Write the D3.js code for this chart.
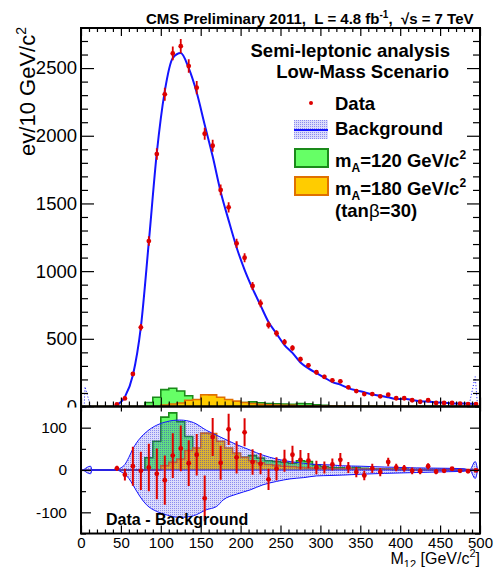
<!DOCTYPE html>
<html>
<head>
<meta charset="utf-8">
<script src="https://cdn.jsdelivr.net/npm/d3@7"></script>
<style>
body { margin: 0; background: #fff; }
svg { display: block; }
text { font-family: "Liberation Sans", Arial, sans-serif; white-space: pre; }
</style>
</head>
<body>
<div id="chart"></div>
<script>
// bin centres (GeV/c^2) of the data points
var mass = [45,55,65,75,85,95,105,115,125,135,145,155,165,175,185,195,205,215,225,235,
            245,255,265,275,285,295,305,315,325,335,345,355,365,375,385,395,405,415,425,435,
            445,455,465,475,485,495];
var dataVals = [16,60,240,585,1222,1865,2306,2608,2662,2515,2355,2015,1926,1600,1471,1205,1099,890,762,602,
                541,476,432,349,304,253,219,193,186,142,114,92,92,75,87,61,61,46,35,46,
                26,26,26,21,18,18];
var dataErr = [4,8,15,24,35,43,48,51,52,50,49,45,44,40,38,35,33,30,28,25,
               23,22,21,19,17,16,15,14,14,12,11,10,10,9,9,8,8,7,6,7,
               5,5,5,5,4,4];
var bkgVals = [12,71,231,587,1216,1874,2330,2574,2611,2499,2319,2082,1848,1587,1375,1175,1010,871,747,624,
               538,454,396,325,282,247,214,180,162,136,119,105,88,80,68,55,57,48,38,37,
               30,28,23,23,21,19];
// data - background
var resid = [4,-11,9,-2,6,-9,-24,34,51,16,36,-67,78,17,96,30,89,19,15,-22,
             3,22,36,24,22,6,6,13,24,6,-5,-13,4,-5,19,6,4,-2,-3,9,
             -4,-2,3,-2,-3,-1];
var residErr = [6,14,46,45,56,60,58,53,54,54,49,54,45,40,37,38,33,30,25,25,
                27,26,21,23,18,16,14,14,16,13,12,11,11,10,10,9,8,8,7,7,
                6,5,4,3,3,3];

// signal histograms, 10 GeV bins (lower edges)
var sigLow = [0,10,20,30,40,50,60,70,80,90,100,110,120,130,140,150,160,170,180,190,
              200,210,220,230,240,250,260,270,280,290,300,310,320,330,340,350,360,370,380,390,
              400,410,420,430,440,450,460,470,480,490];
var sig120 = [0,0,0,0,0,0,0,0,29,68,125,135,114,79,42,36,32,28,30,30,
              30,34,28,22,20,18,16,22,20,12,8,6,5,4,6,4,3,3,2,2,
              2,1,1,1,1,1,1,0,0,0];
var sig180 = [0,0,0,0,0,0,0,0,0,0,10,18,26,46,52,87,86,68,52,40,
              30,22,17,13,11,9,8,6,5,4,4,3,3,3,2,2,2,2,2,1,
              1,1,1,1,1,1,1,1,1,1];

// background uncertainty band (lower pad)
var bandX  = [3,12,14,44,50,55,60,65,74,82,95,107,124,141,157,170,178,195,212,228,
              245,262,279,295,312,328,350,380,420,460,480,487,494,497];
var bandUp = [0,9,0,0,5,13,30,50,75,90,106,114,118,112,94,82,75,60,47,35,
              26,20,16,13,12,10,9,7,5,4,3,0,20,0];
var bandDn = [0,9,0,0,4,10,20,35,63,82,98,106,112,108,94,86,71,57,47,35,
              27,21,18,14,13,12,10,8,6,4,3,0,20,0];

// edge artefacts of the background band in the upper pad
var spikeLeft  = [[4,0],[5,146],[12,0]];
var spikeRight = [[486,0],[494,220],[497,0]];

var W = 494, H = 567;
var blue = "#1414ff", red = "#dd0000";
var greenFill = "#66ff66", greenLine = "#1a8a1a";
var orangeFill = "#ffcc00", orangeLine = "#e07000";

var svg = d3.select("#chart").append("svg")
    .attr("width", W)
    .attr("height", H);

var defs = svg.append("defs");
var pat = defs.append("pattern")
    .attr("id", "dots")
    .attr("patternUnits", "userSpaceOnUse")
    .attr("width", 2).attr("height", 2);
pat.append("rect").attr("width", 2).attr("height", 2).attr("fill", "rgba(80,80,235,0.2)");
pat.append("rect").attr("width", 1).attr("height", 1).attr("fill", "rgba(40,40,225,0.45)");

var x = d3.scaleLinear().domain([0, 500]).range([81, 480]);
var yTop = d3.scaleLinear().domain([0, 2796]).range([406.5, 28]);
var yBot = d3.scaleLinear().domain([-150, 150]).range([533.5, 406.5]);

defs.append("clipPath").attr("id", "clipTop")
    .append("rect").attr("x", 81).attr("y", 28).attr("width", 399).attr("height", 378.5);
defs.append("clipPath").attr("id", "clipBot")
    .append("rect").attr("x", 81).attr("y", 406.5).attr("width", 399).attr("height", 127);

function histPoints(vals) {
    var pts = sigLow.map(function(lo, i) { return [lo, vals[i]]; });
    pts.push([500, vals[vals.length - 1]]);
    return pts;
}

function drawHist(g, y, vals, fill, stroke) {
    var pts = histPoints(vals);
    g.append("path")
        .attr("d", d3.area().curve(d3.curveStepAfter)
            .x(function(d) { return x(d[0]); })
            .y0(y(0))
            .y1(function(d) { return y(d[1]); })(pts))
        .attr("fill", fill);
    g.append("path")
        .attr("d", d3.line().curve(d3.curveStepAfter)
            .x(function(d) { return x(d[0]); })
            .y(function(d) { return y(d[1]); })(pts))
        .attr("fill", "none")
        .attr("stroke", stroke)
        .attr("stroke-width", 1.6);
}

// ---------------- upper pad ----------------
var upper = svg.append("g").attr("clip-path", "url(#clipTop)");

drawHist(upper, yTop, sig120, greenFill, greenLine);
drawHist(upper, yTop, sig180, orangeFill, orangeLine);

[spikeLeft, spikeRight].forEach(function(s) {
    upper.append("path")
        .attr("d", d3.line().x(function(d) { return x(d[0]); }).y(function(d) { return yTop(d[1]); })(s))
        .attr("fill", "none")
        .attr("stroke", blue)
        .attr("stroke-width", 1)
        .attr("stroke-dasharray", "1,2");
});

upper.append("path")
    .datum(mass.map(function(m, i) { return [m, bkgVals[i]]; }))
    .attr("d", d3.line().curve(d3.curveMonotoneX)
        .x(function(d) { return x(d[0]); })
        .y(function(d) { return yTop(d[1]); }))
    .attr("fill", "none")
    .attr("stroke", blue)
    .attr("stroke-width", 2);

var pts = upper.append("g").selectAll("g")
    .data(mass.map(function(m, i) { return {m: m, v: dataVals[i], e: dataErr[i]}; }))
    .enter().append("g");
pts.append("line")
    .attr("x1", function(d) { return x(d.m); })
    .attr("x2", function(d) { return x(d.m); })
    .attr("y1", function(d) { return yTop(d.v - d.e); })
    .attr("y2", function(d) { return yTop(d.v + d.e); })
    .attr("stroke", red).attr("stroke-width", 1.8);
pts.append("circle")
    .attr("cx", function(d) { return x(d.m); })
    .attr("cy", function(d) { return yTop(d.v); })
    .attr("r", 2.4)
    .attr("fill", red);

// upper axes
function styleAxis(g) {
    g.select(".domain").remove();
    g.selectAll("line").attr("stroke", "#000").attr("stroke-width", 1.2);
    g.selectAll("text").attr("fill", "#000").attr("font-family", "Liberation Sans, Arial, sans-serif");
}
var plain = function(d) { return String(d); };

var yMajor = [0, 500, 1000, 1500, 2000, 2500];
var yMinor = [100,200,300,400,600,700,800,900,1100,1200,1300,1400,1600,1700,1800,1900,2100,2200,2300,2400,2600,2700];
var xMajor = [0,50,100,150,200,250,300,350,400,450,500];
var xMinor = [10,20,30,40,60,70,80,90,110,120,130,140,160,170,180,190,210,220,230,240,
              260,270,280,290,310,320,330,340,360,370,380,390,410,420,430,440,460,470,480,490];

svg.append("g").attr("transform", "translate(81,0)")
    .call(d3.axisLeft(yTop).tickValues(yMajor).tickSize(-13).tickPadding(4).tickFormat(plain))
    .call(styleAxis)
    .selectAll("text").attr("font-size", 18.5);
svg.append("g").attr("transform", "translate(81,0)")
    .call(d3.axisLeft(yTop).tickValues(yMinor).tickSize(-7).tickFormat(""))
    .call(styleAxis);
svg.append("g").attr("transform", "translate(480,0)")
    .call(d3.axisRight(yTop).tickValues(yMajor).tickSize(-13).tickFormat(""))
    .call(styleAxis);
svg.append("g").attr("transform", "translate(480,0)")
    .call(d3.axisRight(yTop).tickValues(yMinor).tickSize(-7).tickFormat(""))
    .call(styleAxis);
svg.append("g").attr("transform", "translate(0,28)")
    .call(d3.axisTop(x).tickValues(xMajor).tickSize(-8).tickFormat(""))
    .call(styleAxis);
svg.append("g").attr("transform", "translate(0,28)")
    .call(d3.axisTop(x).tickValues(xMinor).tickSize(-4).tickFormat(""))
    .call(styleAxis);
svg.append("g").attr("transform", "translate(0,406.5)")
    .call(d3.axisBottom(x).tickValues(xMajor).tickSize(-9).tickFormat(""))
    .call(styleAxis);
svg.append("g").attr("transform", "translate(0,406.5)")
    .call(d3.axisBottom(x).tickValues(xMinor).tickSize(-5).tickFormat(""))
    .call(styleAxis);

// ---------------- lower pad ----------------
svg.append("rect")
    .attr("x", 0).attr("y", 407.5)
    .attr("width", W).attr("height", H - 407.5)
    .attr("fill", "#fff");

var lower = svg.append("g").attr("clip-path", "url(#clipBot)");

drawHist(lower, yBot, sig120, greenFill, greenLine);
drawHist(lower, yBot, sig180, orangeFill, orangeLine);

lower.append("path")
    .datum(bandX.map(function(b, i) { return [b, bandUp[i], bandDn[i]]; }))
    .attr("d", d3.area().curve(d3.curveMonotoneX)
        .x(function(d) { return x(d[0]); })
        .y0(function(d) { return yBot(-d[2]); })
        .y1(function(d) { return yBot(d[1]); }))
    .attr("fill", "url(#dots)")
    .attr("stroke", blue)
    .attr("stroke-width", 1);

lower.append("line")
    .attr("x1", x(0)).attr("x2", x(500))
    .attr("y1", yBot(0)).attr("y2", yBot(0))
    .attr("stroke", blue).attr("stroke-width", 1);

var rpts = lower.append("g").selectAll("g")
    .data(mass.map(function(m, i) { return {m: m, v: resid[i], e: residErr[i]}; }))
    .enter().append("g");
rpts.append("line")
    .attr("x1", function(d) { return x(d.m); })
    .attr("x2", function(d) { return x(d.m); })
    .attr("y1", function(d) { return yBot(d.v - d.e); })
    .attr("y2", function(d) { return yBot(d.v + d.e); })
    .attr("stroke", red).attr("stroke-width", 2);
rpts.append("circle")
    .attr("cx", function(d) { return x(d.m); })
    .attr("cy", function(d) { return yBot(d.v); })
    .attr("r", 2.4)
    .attr("fill", red);

lower.append("text")
    .attr("x", 106).attr("y", 525)
    .attr("font-size", 16).attr("font-weight", "bold")
    .text("Data - Background");

// lower axes
var ryMajor = [-100, 0, 100];
var ryMinor = [-150, -50, 50, 150];
svg.append("g").attr("transform", "translate(81,0)")
    .call(d3.axisLeft(yBot).tickValues(ryMajor).tickSize(-10).tickPadding(14).tickFormat(plain))
    .call(styleAxis)
    .selectAll("text").attr("font-size", 15.5);
svg.append("g").attr("transform", "translate(81,0)")
    .call(d3.axisLeft(yBot).tickValues(ryMinor).tickSize(-5).tickFormat(""))
    .call(styleAxis);
svg.append("g").attr("transform", "translate(480,0)")
    .call(d3.axisRight(yBot).tickValues(ryMajor).tickSize(-10).tickFormat(""))
    .call(styleAxis);
svg.append("g").attr("transform", "translate(480,0)")
    .call(d3.axisRight(yBot).tickValues(ryMinor).tickSize(-5).tickFormat(""))
    .call(styleAxis);
svg.append("g").attr("transform", "translate(0,406.5)")
    .call(d3.axisTop(x).tickValues(xMajor).tickSize(-5).tickFormat(""))
    .call(styleAxis);
svg.append("g").attr("transform", "translate(0,533.5)")
    .call(d3.axisBottom(x).tickValues(xMajor).tickSize(-8).tickPadding(4).tickFormat(plain))
    .call(styleAxis)
    .selectAll("text").attr("font-size", 15);
svg.append("g").attr("transform", "translate(0,533.5)")
    .call(d3.axisBottom(x).tickValues(xMinor).tickSize(-4).tickFormat(""))
    .call(styleAxis);

// frames
svg.append("rect").attr("x", 81).attr("y", 28).attr("width", 399).attr("height", 378.5)
    .attr("fill", "none").attr("stroke", "#000").attr("stroke-width", 2);
svg.append("rect").attr("x", 81).attr("y", 406.5).attr("width", 399).attr("height", 127)
    .attr("fill", "none").attr("stroke", "#000").attr("stroke-width", 2);

// ---------------- titles ----------------
var t = svg.append("text")
    .attr("x", 473.5).attr("y", 24)
    .attr("text-anchor", "end")
    .attr("font-size", 15).attr("font-weight", "bold");
t.append("tspan").text("CMS Preliminary 2011,  L = 4.8 fb");
t.append("tspan").attr("font-size", 10).attr("dy", -6).text("-1");
t.append("tspan").attr("dy", 6).text(",  \u221As = 7 TeV");

var yt = svg.append("text")
    .attr("transform", "translate(35,27) rotate(-90)")
    .attr("text-anchor", "end")
    .attr("font-size", 22);
yt.append("tspan").text("ev/10 GeV/c");
yt.append("tspan").attr("font-size", 14).attr("dy", -9).text("2");

var xt = svg.append("text")
    .attr("x", 480).attr("y", 564)
    .attr("text-anchor", "end")
    .attr("font-size", 16);
xt.append("tspan").text("M");
xt.append("tspan").attr("font-size", 11).attr("dy", 4).text("12");
xt.append("tspan").attr("dy", -4).text(" [GeV/c");
xt.append("tspan").attr("font-size", 11).attr("dy", -7).text("2");
xt.append("tspan").attr("dy", 7).text("]");

// ---------------- legend ----------------
var lg = svg.append("g").attr("font-size", 18.5).attr("font-weight", "bold");
lg.append("text").attr("x", 450).attr("y", 57).attr("text-anchor", "end").text("Semi-leptonic analysis");
lg.append("text").attr("x", 449).attr("y", 78).attr("text-anchor", "end").text("Low-Mass Scenario");

lg.append("circle").attr("cx", 311).attr("cy", 103).attr("r", 2).attr("fill", red);
lg.append("text").attr("x", 335).attr("y", 110).text("Data");

lg.append("rect").attr("x", 294).attr("y", 120).attr("width", 34).attr("height", 19)
    .attr("fill", "url(#dots)");
lg.append("line").attr("x1", 294).attr("x2", 328).attr("y1", 130).attr("y2", 130)
    .attr("stroke", blue).attr("stroke-width", 2);
lg.append("text").attr("x", 335).attr("y", 135).text("Background");

lg.append("rect").attr("x", 295).attr("y", 149).attr("width", 33).attr("height", 18)
    .attr("fill", greenFill).attr("stroke", greenLine).attr("stroke-width", 2);
var l1 = lg.append("text").attr("x", 335).attr("y", 166.5);
l1.append("tspan").text("m");
l1.append("tspan").attr("font-size", 12).attr("dy", 5).text("A");
l1.append("tspan").attr("dy", -5).text("=120 GeV/c");
l1.append("tspan").attr("font-size", 12).attr("dy", -8).text("2");

lg.append("rect").attr("x", 295).attr("y", 177).attr("width", 33).attr("height", 18)
    .attr("fill", orangeFill).attr("stroke", orangeLine).attr("stroke-width", 2);
var l2 = lg.append("text").attr("x", 335).attr("y", 194.5);
l2.append("tspan").text("m");
l2.append("tspan").attr("font-size", 12).attr("dy", 5).text("A");
l2.append("tspan").attr("dy", -5).text("=180 GeV/c");
l2.append("tspan").attr("font-size", 12).attr("dy", -8).text("2");

var l3 = lg.append("text").attr("x", 335).attr("y", 217);
l3.append("tspan").text("(tan");
l3.append("tspan").attr("font-weight", "normal").text("\u03B2");
l3.append("tspan").text("=30)");
</script>
</body>
</html>
